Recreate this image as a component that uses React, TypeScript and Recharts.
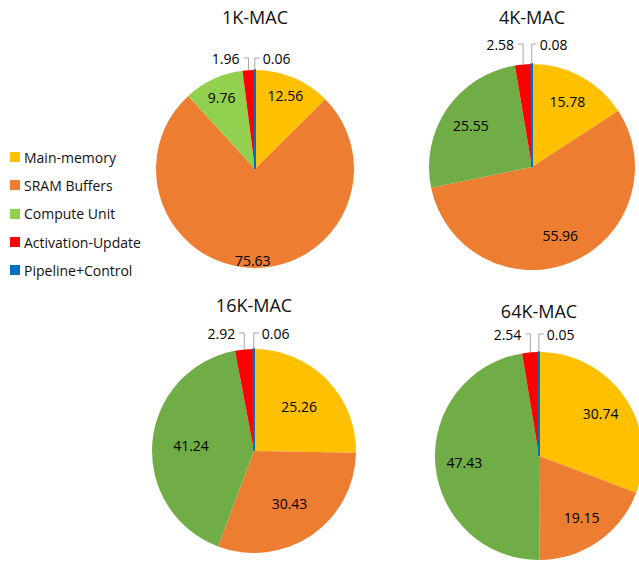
import { Cell, Pie, PieChart } from "recharts";

// ─── data ────────────────────────────────────────────────
const CATEGORIES = [
  "Main-memory",
  "SRAM Buffers",
  "Compute Unit",
  "Activation-Update",
  "Pipeline+Control",
];

const TITLES = ["1K-MAC", "4K-MAC", "16K-MAC", "64K-MAC"];

const MAC_1K = [12.56, 75.63, 9.76, 1.96, 0.06];
const MAC_4K = [15.78, 55.96, 25.55, 2.58, 0.08];
const MAC_16K = [25.26, 30.43, 41.24, 2.92, 0.06];
const MAC_64K = [30.74, 19.15, 47.43, 2.54, 0.05];

const SERIES = [MAC_1K, MAC_4K, MAC_16K, MAC_64K];

// ─── styles / layout ─────────────────────────────────────
const COLORS = ["#FFC000", "#ED7D31", "#70AD47", "#FF0000", "#0070C0"];
const COMPUTE_LIGHT = "#92D050";

// lr = radial position of the inside labels (fraction of radius)
const LAYOUT = [
  { cx: 255, cy: 169, r: 99, titleY: 17, gap: 12, lr: 0.8, green: COMPUTE_LIGHT },
  { cx: 532, cy: 167, r: 103, titleY: 17, gap: 20, lr: 0.72, green: COLORS[2] },
  { cx: 254, cy: 451, r: 102, titleY: 305, gap: 16, lr: 0.62, green: COLORS[2] },
  { cx: 539, cy: 456, r: 104, titleY: 311, gap: 18, lr: 0.72, green: COLORS[2] },
];

const FONT = "'Open Sans', 'Noto Sans', sans-serif";
const RAD = Math.PI / 180;

function makeLabel(gap: number, lr: number) {
  return (props: any) => {
    const { cx, cy, midAngle, outerRadius, value, index, percent } = props;
    const cos = Math.cos(-midAngle * RAD);
    const sin = Math.sin(-midAngle * RAD);
    if (index < 3) {
      // a dominant slice gets its label pushed further out
      const rr = outerRadius * (percent > 0.7 ? 0.92 : lr);
      return (
        <text
          x={cx + rr * cos}
          y={cy + rr * sin}
          textAnchor="middle"
          dominantBaseline="central"
          fontSize={14}
          fontFamily={FONT}
          fill="#000"
        >
          {value.toFixed(2)}
        </text>
      );
    }
    // small slices: leader line going up, then sideways
    const ex = cx + outerRadius * cos;
    const ey = cy + outerRadius * sin;
    const ly = cy - outerRadius - gap;
    const left = index === 3;
    const hx = left ? ex - 5 : ex + 5;
    const tx = left ? ex - 9 : ex + 8;
    return (
      <g>
        <polyline
          points={`${ex},${ey} ${ex},${ly} ${hx},${ly}`}
          fill="none"
          stroke="#A6A6A6"
          strokeWidth={1}
        />
        <text
          x={tx}
          y={ly}
          textAnchor={left ? "end" : "start"}
          dominantBaseline="central"
          fontSize={14}
          fontFamily={FONT}
          fill="#000"
        >
          {value.toFixed(2)}
        </text>
      </g>
    );
  };
}

function LegendBlock() {
  return (
    <div style={{ position: "absolute", left: 10, top: 143, fontFamily: FONT, fontSize: 14 }}>
      {CATEGORIES.map((name, i) => (
        <div key={name} style={{ display: "flex", alignItems: "center", height: 28.3 }}>
          <span
            style={{
              width: 10,
              height: 10,
              background: i === 2 ? COMPUTE_LIGHT : COLORS[i],
              marginRight: 4,
              display: "inline-block",
            }}
          />
          <span style={{ color: "#111" }}>{name}</span>
        </div>
      ))}
    </div>
  );
}

export default function App() {
  return (
    <div
      style={{
        position: "absolute",
        left: 0,
        top: 0,
        width: 639,
        height: 561,
        background: "#fff",
        overflow: "hidden",
      }}
    >
      <PieChart width={639} height={561} margin={{ top: 0, right: 0, bottom: 0, left: 0 }}>
        {SERIES.map((vals, k) => {
          const L = LAYOUT[k];
          const rows = CATEGORIES.map((name, i) => ({ name, value: vals[i] }));
          return (
            <Pie
              key={TITLES[k]}
              data={rows}
              dataKey="value"
              nameKey="name"
              cx={L.cx}
              cy={L.cy}
              innerRadius={0}
              outerRadius={L.r}
              startAngle={90}
              endAngle={-270}
              stroke="none"
              label={makeLabel(L.gap, L.lr)}
              labelLine={false}
              isAnimationActive={false}
            >
              {rows.map((_, i) => (
                <Cell
                  key={`cell-${k}-${i}`}
                  fill={i === 2 ? L.green : COLORS[i]}
                  stroke={i === 4 ? COLORS[4] : "none"}
                  strokeWidth={i === 4 ? 2 : 0}
                />
              ))}
            </Pie>
          );
        })}
      </PieChart>
      {TITLES.map((t, k) => (
        <div
          key={t}
          style={{
            position: "absolute",
            left: LAYOUT[k].cx - 70,
            width: 140,
            top: LAYOUT[k].titleY - 13,
            lineHeight: "26px",
            textAlign: "center",
            fontFamily: FONT,
            fontSize: 18,
            color: "#111",
          }}
        >
          {t}
        </div>
      ))}
      <LegendBlock />
    </div>
  );
}
